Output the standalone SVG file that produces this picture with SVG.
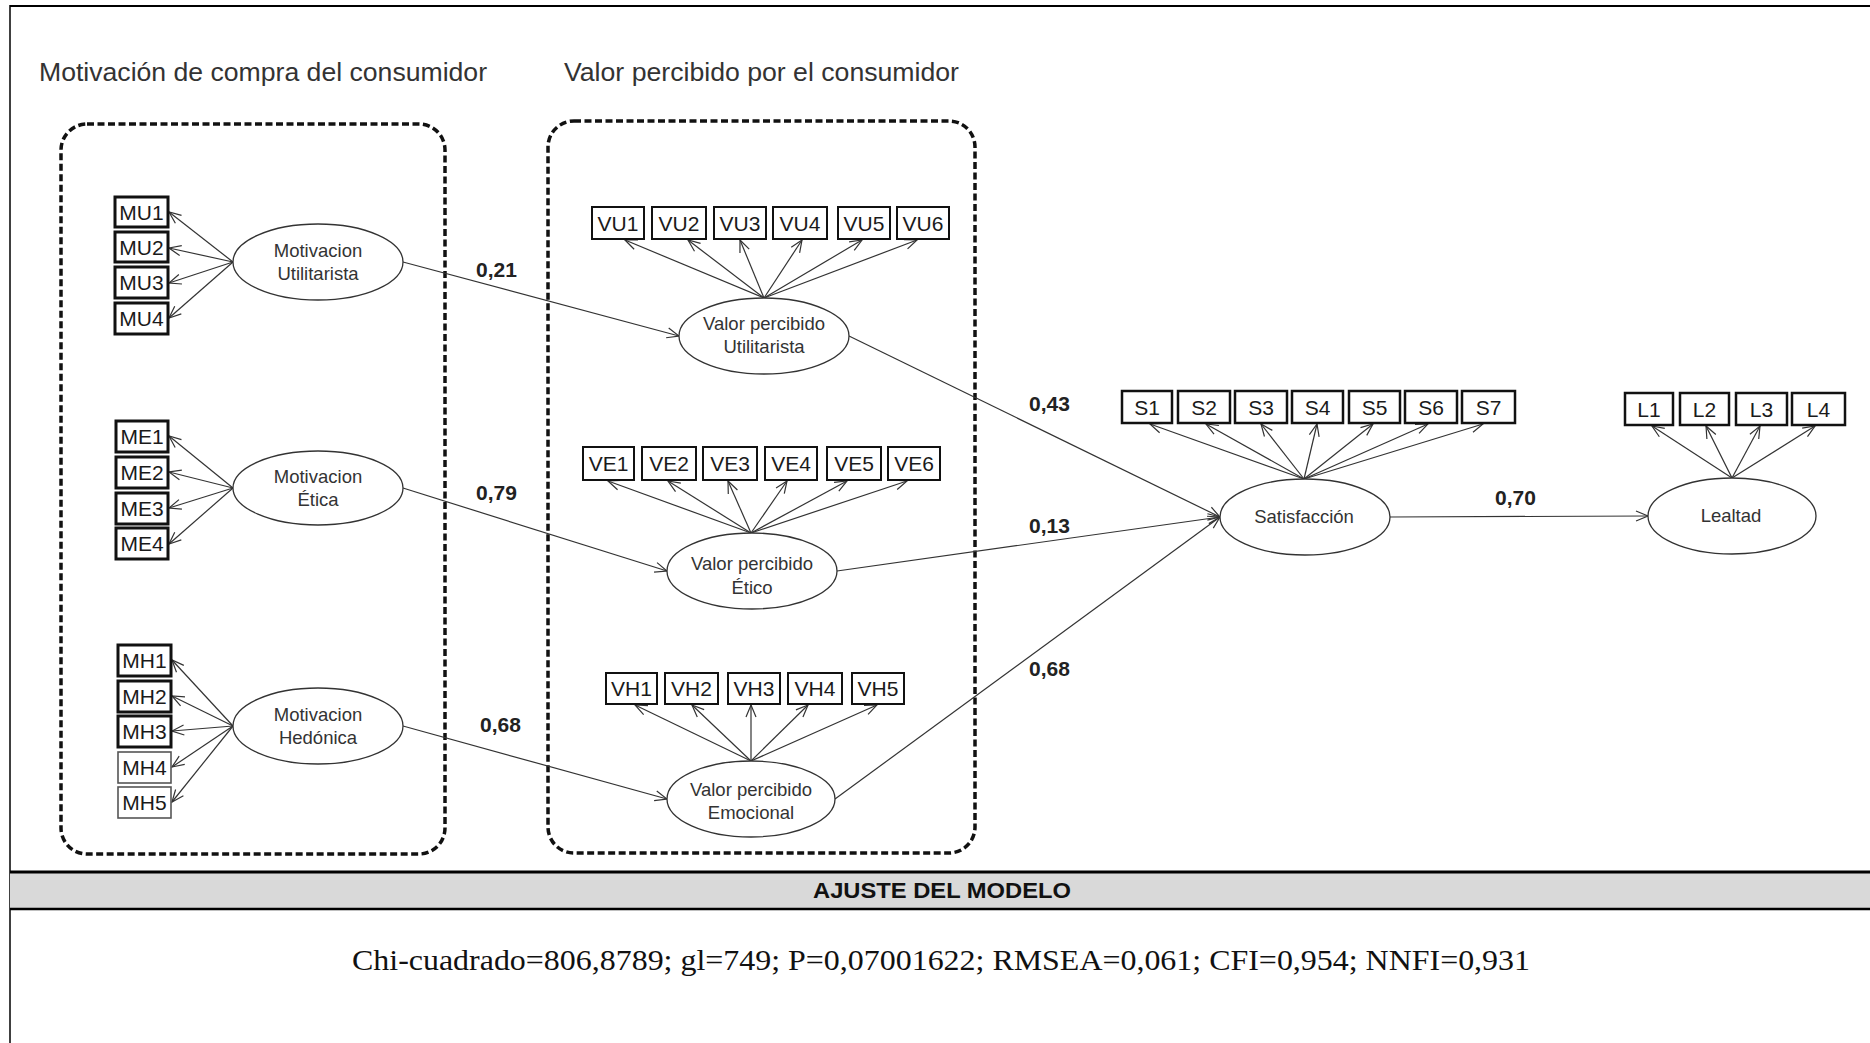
<svg xmlns="http://www.w3.org/2000/svg" width="1870" height="1043" viewBox="0 0 1870 1043">
<style>
.frame{stroke:#000;fill:none}
.grp{fill:none;stroke:#111;stroke-width:3.5;stroke-dasharray:7 3.5}
.box{fill:#fff;stroke:#111;stroke-width:2}
.boxk{fill:#fff;stroke:#111;stroke-width:3}
.boxs{fill:#fff;stroke:#111;stroke-width:2.5}
.boxl{fill:#fff;stroke:#555;stroke-width:1.6}
.ell{fill:#fff;stroke:#333;stroke-width:1.3}
.bt{font-family:"Liberation Sans",Arial,sans-serif;font-size:21px;fill:#1a1a1a;text-anchor:middle}
.et{font-family:"Liberation Sans",Arial,sans-serif;font-size:18.5px;fill:#333;text-anchor:middle}
.ttl{font-family:"Liberation Sans",Arial,sans-serif;font-size:25px;fill:#333}
.lbl{font-family:"Liberation Sans",Arial,sans-serif;font-size:21px;font-weight:bold;fill:#222}
.con line{stroke:#333;stroke-width:1.2;marker-end:url(#ah)}
</style>
<defs>
<marker id="ah" markerUnits="userSpaceOnUse" viewBox="-14 -8 16 16" refX="0" refY="0" markerWidth="16" markerHeight="16" orient="auto">
<path d="M-12,-5 L0,0 L-12,5" fill="none" stroke="#333" stroke-width="1.2"/>
</marker>
</defs>
<rect width="1870" height="1043" fill="#fff"/>
<!-- frame -->
<line class="frame" x1="10" y1="6" x2="1870" y2="6" stroke-width="2"/>
<line class="frame" x1="10" y1="5" x2="10" y2="1043" stroke-width="1.5"/>
<rect x="10" y="872" width="1860" height="37" fill="#d9d9d9"/>
<line class="frame" x1="10" y1="872" x2="1870" y2="872" stroke-width="3"/>
<line class="frame" x1="10" y1="909" x2="1870" y2="909" stroke-width="2.5"/>
<text x="942" y="898" font-family="'Liberation Sans',Arial,sans-serif" font-size="22" font-weight="bold" text-anchor="middle" fill="#111" textLength="258" lengthAdjust="spacingAndGlyphs">AJUSTE DEL MODELO</text>
<text x="352" y="970" font-family="'Liberation Serif','Times New Roman',serif" font-size="30" fill="#111" textLength="1178" lengthAdjust="spacingAndGlyphs">Chi-cuadrado=806,8789; gl=749; P=0,07001622; RMSEA=0,061; CFI=0,954; NNFI=0,931</text>

<!-- titles -->
<text class="ttl" x="39" y="81" textLength="448" lengthAdjust="spacingAndGlyphs">Motivación de compra del consumidor</text>
<text class="ttl" x="564" y="81" textLength="395" lengthAdjust="spacingAndGlyphs">Valor percibido por el consumidor</text>

<!-- group boxes -->
<rect id="grupo-motivacion" class="grp" x="61" y="124" width="384" height="730" rx="26"/>
<rect id="grupo-valor" class="grp" x="548" y="121" width="427" height="732" rx="26"/>

<!-- connectors -->
<g id="connectors" class="con">
<!-- structural -->
<line x1="403" y1="262" x2="679" y2="336"/>
<line x1="403" y1="488" x2="667" y2="571"/>
<line x1="403" y1="726" x2="667" y2="799"/>
<line x1="849" y1="336" x2="1220" y2="517"/>
<line x1="837" y1="571" x2="1220" y2="517"/>
<line x1="835" y1="799" x2="1220" y2="517"/>
<line x1="1390" y1="517" x2="1648" y2="516"/>
<!-- MU loadings -->
<line x1="233" y1="262" x2="169" y2="212"/>
<line x1="233" y1="262" x2="169" y2="248"/>
<line x1="233" y1="262" x2="169" y2="283"/>
<line x1="233" y1="262" x2="169" y2="318"/>
<!-- ME loadings -->
<line x1="233" y1="488" x2="169" y2="436"/>
<line x1="233" y1="488" x2="169" y2="472"/>
<line x1="233" y1="488" x2="169" y2="508"/>
<line x1="233" y1="488" x2="169" y2="544"/>
<!-- MH loadings -->
<line x1="233" y1="726" x2="172" y2="660"/>
<line x1="233" y1="726" x2="172" y2="696"/>
<line x1="233" y1="726" x2="172" y2="731"/>
<line x1="233" y1="726" x2="172" y2="767"/>
<line x1="233" y1="726" x2="172" y2="802"/>
<!-- VU loadings -->
<line x1="764" y1="298" x2="625" y2="240"/>
<line x1="764" y1="298" x2="688" y2="240"/>
<line x1="764" y1="298" x2="740" y2="240"/>
<line x1="764" y1="298" x2="802" y2="240"/>
<line x1="764" y1="298" x2="862" y2="240"/>
<line x1="764" y1="298" x2="917" y2="240"/>
<!-- VE loadings -->
<line x1="751" y1="533" x2="608" y2="481"/>
<line x1="751" y1="533" x2="668" y2="481"/>
<line x1="751" y1="533" x2="728" y2="481"/>
<line x1="751" y1="533" x2="787" y2="481"/>
<line x1="751" y1="533" x2="847" y2="481"/>
<line x1="751" y1="533" x2="907" y2="481"/>
<!-- VH loadings -->
<line x1="751" y1="761" x2="635" y2="705"/>
<line x1="751" y1="761" x2="692" y2="705"/>
<line x1="751" y1="761" x2="751" y2="705"/>
<line x1="751" y1="761" x2="808" y2="705"/>
<line x1="751" y1="761" x2="877" y2="705"/>
<!-- S loadings -->
<line x1="1304" y1="479" x2="1150" y2="424"/>
<line x1="1304" y1="479" x2="1206" y2="424"/>
<line x1="1304" y1="479" x2="1261" y2="424"/>
<line x1="1304" y1="479" x2="1317" y2="424"/>
<line x1="1304" y1="479" x2="1373" y2="424"/>
<line x1="1304" y1="479" x2="1428" y2="424"/>
<line x1="1304" y1="479" x2="1483" y2="424"/>
<!-- L loadings -->
<line x1="1732" y1="478" x2="1652" y2="426"/>
<line x1="1732" y1="478" x2="1706" y2="426"/>
<line x1="1732" y1="478" x2="1760" y2="426"/>
<line x1="1732" y1="478" x2="1815" y2="426"/>
</g>

<!-- path labels -->
<g id="labels">
<text class="lbl" x="476" y="277">0,21</text>
<text class="lbl" x="476" y="500">0,79</text>
<text class="lbl" x="480" y="732">0,68</text>
<text class="lbl" x="1029" y="411">0,43</text>
<text class="lbl" x="1029" y="533">0,13</text>
<text class="lbl" x="1029" y="676">0,68</text>
<text class="lbl" x="1495" y="505">0,70</text>
</g>

<!-- latent constructs -->
<g id="mot-utilitarista"><ellipse class="ell" cx="318" cy="262" rx="85" ry="38"/><text class="et" x="318" y="257">Motivacion</text><text class="et" x="318" y="280">Utilitarista</text></g>
<g id="mot-etica"><ellipse class="ell" cx="318" cy="488" rx="85" ry="37"/><text class="et" x="318" y="483">Motivacion</text><text class="et" x="318" y="506">Ética</text></g>
<g id="mot-hedonica"><ellipse class="ell" cx="318" cy="726" rx="85" ry="38"/><text class="et" x="318" y="721">Motivacion</text><text class="et" x="318" y="744">Hedónica</text></g>
<g id="vp-utilitarista"><ellipse class="ell" cx="764" cy="336" rx="85" ry="38"/><text class="et" x="764" y="330">Valor percibido</text><text class="et" x="764" y="353">Utilitarista</text></g>
<g id="vp-etico"><ellipse class="ell" cx="752" cy="571" rx="85" ry="38"/><text class="et" x="752" y="570">Valor percibido</text><text class="et" x="752" y="594">Ético</text></g>
<g id="vp-emocional"><ellipse class="ell" cx="751" cy="799" rx="84" ry="38"/><text class="et" x="751" y="796">Valor percibido</text><text class="et" x="751" y="819">Emocional</text></g>
<g id="satisfaccion"><ellipse class="ell" cx="1305" cy="517" rx="85" ry="38"/><text class="et" x="1304" y="523">Satisfacción</text></g>
<g id="lealtad"><ellipse class="ell" cx="1732" cy="516" rx="84" ry="38"/><text class="et" x="1731" y="522">Lealtad</text></g>

<!-- indicators MU -->
<g id="MU1"><rect class="boxk" x="115" y="197" width="53" height="30"/><text class="bt" x="141.5" y="219.5">MU1</text></g>
<g id="MU2"><rect class="boxk" x="115" y="232" width="53" height="30"/><text class="bt" x="141.5" y="254.5">MU2</text></g>
<g id="MU3"><rect class="boxk" x="115" y="267" width="53" height="31"/><text class="bt" x="141.5" y="290">MU3</text></g>
<g id="MU4"><rect class="boxk" x="115" y="303" width="53" height="31"/><text class="bt" x="141.5" y="326">MU4</text></g>
<!-- ME -->
<g id="ME1"><rect class="boxk" x="116" y="421" width="52" height="31"/><text class="bt" x="142" y="444">ME1</text></g>
<g id="ME2"><rect class="boxk" x="116" y="457" width="52" height="31"/><text class="bt" x="142" y="480">ME2</text></g>
<g id="ME3"><rect class="boxk" x="116" y="493" width="52" height="31"/><text class="bt" x="142" y="516">ME3</text></g>
<g id="ME4"><rect class="boxk" x="116" y="528" width="52" height="31"/><text class="bt" x="142" y="551">ME4</text></g>
<!-- MH -->
<g id="MH1"><rect class="boxk" x="118" y="645" width="53" height="31"/><text class="bt" x="144.5" y="668">MH1</text></g>
<g id="MH2"><rect class="boxk" x="118" y="681" width="53" height="31"/><text class="bt" x="144.5" y="704">MH2</text></g>
<g id="MH3"><rect class="boxk" x="118" y="716" width="53" height="31"/><text class="bt" x="144.5" y="739">MH3</text></g>
<g id="MH4"><rect class="boxl" x="118" y="752" width="53" height="31"/><text class="bt" x="144.5" y="775">MH4</text></g>
<g id="MH5"><rect class="boxl" x="118" y="787" width="53" height="31"/><text class="bt" x="144.5" y="810">MH5</text></g>
<!-- VU -->
<g id="VU1"><rect class="box" x="592" y="207" width="52" height="32"/><text class="bt" x="618" y="230.5">VU1</text></g>
<g id="VU2"><rect class="box" x="652" y="207" width="54" height="32"/><text class="bt" x="679" y="230.5">VU2</text></g>
<g id="VU3"><rect class="box" x="714" y="207" width="52" height="32"/><text class="bt" x="740" y="230.5">VU3</text></g>
<g id="VU4"><rect class="box" x="773" y="207" width="54" height="32"/><text class="bt" x="800" y="230.5">VU4</text></g>
<g id="VU5"><rect class="box" x="838" y="207" width="52" height="32"/><text class="bt" x="864" y="230.5">VU5</text></g>
<g id="VU6"><rect class="box" x="897" y="207" width="52" height="32"/><text class="bt" x="923" y="230.5">VU6</text></g>
<!-- VE -->
<g id="VE1"><rect class="box" x="583" y="447" width="51" height="33"/><text class="bt" x="608.5" y="471">VE1</text></g>
<g id="VE2"><rect class="box" x="642" y="447" width="54" height="33"/><text class="bt" x="669" y="471">VE2</text></g>
<g id="VE3"><rect class="box" x="703" y="447" width="54" height="33"/><text class="bt" x="730" y="471">VE3</text></g>
<g id="VE4"><rect class="box" x="765" y="447" width="52" height="33"/><text class="bt" x="791" y="471">VE4</text></g>
<g id="VE5"><rect class="box" x="827" y="447" width="54" height="33"/><text class="bt" x="854" y="471">VE5</text></g>
<g id="VE6"><rect class="box" x="888" y="447" width="52" height="33"/><text class="bt" x="914" y="471">VE6</text></g>
<!-- VH -->
<g id="VH1"><rect class="box" x="606" y="673" width="51" height="31"/><text class="bt" x="631.5" y="696">VH1</text></g>
<g id="VH2"><rect class="box" x="665" y="673" width="53" height="31"/><text class="bt" x="691.5" y="696">VH2</text></g>
<g id="VH3"><rect class="box" x="728" y="673" width="52" height="31"/><text class="bt" x="754" y="696">VH3</text></g>
<g id="VH4"><rect class="box" x="788" y="673" width="54" height="31"/><text class="bt" x="815" y="696">VH4</text></g>
<g id="VH5"><rect class="box" x="852" y="673" width="52" height="31"/><text class="bt" x="878" y="696">VH5</text></g>
<!-- S -->
<g id="S1"><rect class="boxs" x="1122" y="391" width="50" height="32"/><text class="bt" x="1147" y="414.5">S1</text></g>
<g id="S2"><rect class="boxs" x="1178" y="391" width="52" height="32"/><text class="bt" x="1204" y="414.5">S2</text></g>
<g id="S3"><rect class="boxs" x="1235" y="391" width="52" height="32"/><text class="bt" x="1261" y="414.5">S3</text></g>
<g id="S4"><rect class="boxs" x="1292" y="391" width="51" height="32"/><text class="bt" x="1317.5" y="414.5">S4</text></g>
<g id="S5"><rect class="boxs" x="1349" y="391" width="51" height="32"/><text class="bt" x="1374.5" y="414.5">S5</text></g>
<g id="S6"><rect class="boxs" x="1405" y="391" width="52" height="32"/><text class="bt" x="1431" y="414.5">S6</text></g>
<g id="S7"><rect class="boxs" x="1462" y="391" width="53" height="32"/><text class="bt" x="1488.5" y="414.5">S7</text></g>
<!-- L -->
<g id="L1"><rect class="boxs" x="1625" y="393" width="48" height="32"/><text class="bt" x="1649" y="416.5">L1</text></g>
<g id="L2"><rect class="boxs" x="1680" y="393" width="49" height="32"/><text class="bt" x="1704.5" y="416.5">L2</text></g>
<g id="L3"><rect class="boxs" x="1736" y="393" width="51" height="32"/><text class="bt" x="1761.5" y="416.5">L3</text></g>
<g id="L4"><rect class="boxs" x="1792" y="393" width="53" height="32"/><text class="bt" x="1818.5" y="416.5">L4</text></g>
</svg>
